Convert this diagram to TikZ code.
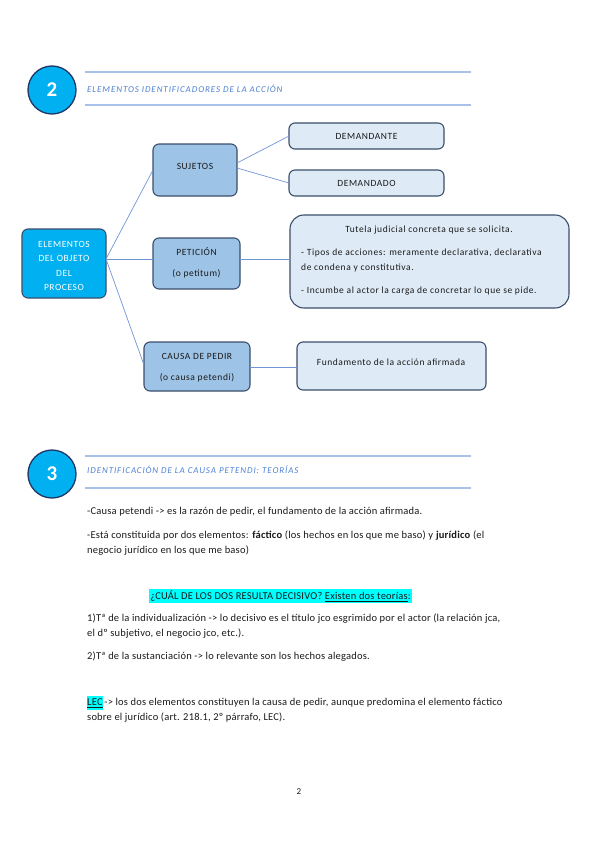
\documentclass[tikz,border=0pt]{standalone}
\usepackage{fontspec}
\setmainfont{Carlito}
\newfontfamily\bodyfont[LetterSpace=2]{Carlito}
\newfontfamily\boxfont[LetterSpace=6]{Carlito}
\newfontfamily\titlefont[LetterSpace=10]{Carlito}
\definecolor{cyanfill}{HTML}{00B0F0}
\definecolor{navy}{HTML}{1F3864}
\definecolor{bordc}{HTML}{3B4E6B}
\definecolor{midfill}{HTML}{9DC3E6}
\definecolor{lightfill}{HTML}{DEEBF7}
\definecolor{conn}{HTML}{7196D6}
\definecolor{headline}{HTML}{A9C0E8}
\definecolor{titlec}{HTML}{4F81D4}
\definecolor{hl}{HTML}{00FFFF}
\definecolor{txt}{HTML}{1A1A1A}
\tikzset{
  x=1pt,y=-1pt,
  numcirc/.style={circle,draw=navy,line width=1.3pt,fill=cyanfill,minimum size=48pt,inner sep=0pt,text=white,font=\fontsize{21}{21}\selectfont\bfseries},
  hline/.style={draw=headline,line width=1.4pt},
  sectitle/.style={anchor=west,inner sep=0pt,text=titlec,font=\titlefont\fontsize{9}{9}\selectfont\itshape},
  rootbox/.style={draw=bordc,line width=1.1pt,fill=cyanfill,rounded corners=6pt},
  midbox/.style={draw=bordc,line width=1.1pt,fill=midfill,rounded corners=6pt},
  lightbox/.style={draw=bordc,line width=1.1pt,fill=lightfill,rounded corners=6pt},
  bigbox/.style={draw=bordc,line width=1.1pt,fill=lightfill,rounded corners=14pt},
  boxtext/.style={inner sep=0pt,text=txt,font=\boxfont\fontsize{9.5}{9.5}\selectfont},
  roottext/.style={inner sep=0pt,text=white,font=\boxfont\fontsize{9.5}{9.5}\selectfont},
  link/.style={draw=conn,line width=0.7pt},
  body/.style={anchor=west,inner sep=0pt,text=txt,font=\bodyfont\fontsize{10.5}{10.5}\selectfont},
}
\begin{document}
\begin{tikzpicture}
\useasboundingbox (0,0) rectangle (599,848);
\fill[white] (0,0) rectangle (599,848);

% Section 2 header
\node[numcirc] (c2) at (52,90) {2};
\coordinate (l2a) at (85,72); \coordinate (l2b) at (471,72);
\coordinate (l2c) at (85,105); \coordinate (l2d) at (471,105);
\draw[hline] (l2a) -- (l2b);
\draw[hline] (l2c) -- (l2d);
\node[sectitle] (t2) at (87,89) {ELEMENTOS IDENTIFICADORES DE LA ACCIÓN};

% Boxes
\draw[rootbox] (22,229) rectangle (106,298);
\coordinate (rootE) at (106,259);
\node[roottext] (r1) at (64,244) {ELEMENTOS};
\node[roottext] (r2) at (64,258) {DEL OBJETO};
\node[roottext] (r3) at (64,273) {DEL};
\node[roottext] (r4) at (64,287) {PROCESO};

\draw[midbox] (153,144) rectangle (237,196);
\coordinate (sujW) at (153,170); \coordinate (sujE1) at (237,163); \coordinate (sujE2) at (237,168);
\node[boxtext] (suj) at (195,166) {SUJETOS};

\draw[midbox] (153,238) rectangle (240,289);
\coordinate (petW) at (153,259); \coordinate (petE) at (240,259);
\node[boxtext] (pet1) at (196.5,252) {PETICIÓN};
\node[boxtext] (pet2) at (196.5,274) {(o petitum)};

\draw[midbox] (144,342) rectangle (250,391);
\coordinate (cauW) at (144,365); \coordinate (cauE) at (250,367);
\node[boxtext] (cau1) at (197,356) {CAUSA DE PEDIR};
\node[boxtext] (cau2) at (197,378) {(o causa petendi)};

\draw[lightbox] (289,123) rectangle (444,149);
\coordinate (dteW) at (289,136);
\node[boxtext] (dte) at (366.5,136) {DEMANDANTE};

\draw[lightbox] (289,170) rectangle (444,196);
\coordinate (ddoW) at (289,183);
\node[boxtext] (ddo) at (366.5,183) {DEMANDADO};

\draw[bigbox] (290,215) rectangle (569,308);
\coordinate (tutW) at (290,259);
\node[boxtext] (tu1) at (429,230) {Tutela judicial concreta que se solicita.};
\node[boxtext,anchor=west] (tu2) at (301,253) {- Tipos de acciones: meramente declarativa, declarativa};
\node[boxtext,anchor=west] (tu3) at (301,268) {de condena y constitutiva.};
\node[boxtext,anchor=west] (tu4) at (301,291) {- Incumbe al actor la carga de concretar lo que se pide.};

\draw[lightbox] (297,342) rectangle (486,390);
\coordinate (funW) at (297,367);
\node[boxtext] (fun) at (391,362) {Fundamento de la acción afirmada};

% Connectors
\draw[link] (rootE) -- (sujW);
\draw[link] (rootE) -- (petW);
\draw[link] (rootE) -- (cauW);
\draw[link] (sujE1) -- (dteW);
\draw[link] (sujE2) -- (ddoW);
\draw[link] (petE) -- (tutW);
\draw[link] (cauE) -- (funW);

% Section 3 header
\node[numcirc] (c3) at (52,474) {3};
\coordinate (l3a) at (85,456); \coordinate (l3b) at (471,456);
\coordinate (l3c) at (85,488); \coordinate (l3d) at (471,488);
\draw[hline] (l3a) -- (l3b);
\draw[hline] (l3c) -- (l3d);
\node[sectitle] (t3) at (87,470) {IDENTIFICACIÓN DE LA CAUSA PETENDI: TEORÍAS};

% Body text
\node[body] (p1) at (87,512) {-Causa petendi -> es la razón de pedir, el fundamento de la acción afirmada.};
\node[body] (p2) at (87,536) {-Está constituida por dos elementos: \textbf{fáctico} (los hechos en los que me baso) y \textbf{jurídico} (el};
\node[body] (p3) at (87,551) {negocio jurídico en los que me baso)};
\node[body,anchor=center,fill=hl,inner ysep=2pt,inner xsep=1pt] (q) at (280.5,596) {¿CUÁL DE LOS DOS RESULTA DECISIVO? \underline{Existen dos teorías}:};
\node[body] (p4) at (87,619) {1)Tª de la individualización -> lo decisivo es el título jco esgrimido por el actor (la relación jca,};
\node[body] (p5) at (87,634) {el dº subjetivo, el negocio jco, etc.).};
\node[body] (p6) at (87,657) {2)Tª de la sustanciación -> lo relevante son los hechos alegados.};
\node[body] (p7) at (87,703) {\colorbox{hl}{\kern-3pt\underline{LEC}\kern-3pt}\,-> los dos elementos constituyen la causa de pedir, aunque predomina el elemento fáctico};
\node[body] (p8) at (87,718) {sobre el jurídico (art. 218.1, 2º párrafo, LEC).};

\node[inner sep=0pt,text=txt,font=\fontsize{9}{9}\selectfont] (pg) at (299,792) {2};
\end{tikzpicture}
\end{document}
